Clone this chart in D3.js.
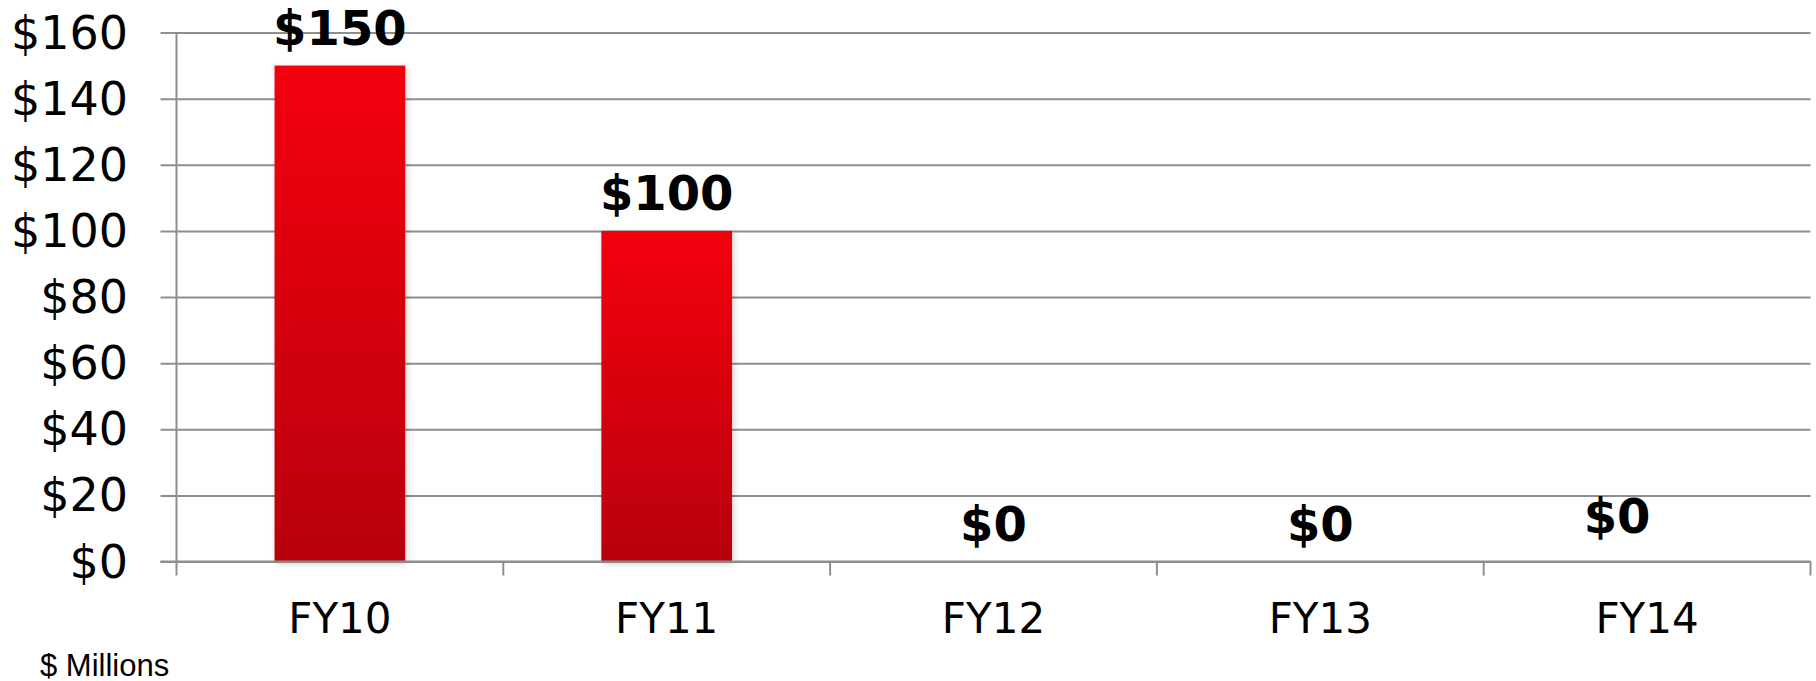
<!DOCTYPE html>
<html>
<head>
<meta charset="utf-8">
<script src="https://cdn.jsdelivr.net/npm/d3@7"></script>
<style>
  html, body { margin: 0; padding: 0; background: #fff; }
  svg { display: block; }
</style>
</head>
<body>
<svg id="chart" width="1816" height="681"></svg>
<script>
const categories = ["FY10", "FY11", "FY12", "FY13", "FY14"];
const values = [150, 100, 0, 0, 0];
const valueLabels = ["$150", "$100", "$0", "$0", "$0"];
const yTicks = [0, 20, 40, 60, 80, 100, 120, 140, 160];
const yTickLabels = ["$0", "$20", "$40", "$60", "$80", "$100", "$120", "$140", "$160"];
const unitNote = "$ Millions";

(function () {
const svg = d3.select("#chart");
const pLeft = 176.5, pRight = 1810.5, pTop = 32.5, pBottom = 561.5;

const x = d3.scaleBand().domain(categories).range([pLeft, pRight]).paddingInner(0.6).paddingOuter(0.3);
const xb = d3.scaleBand().domain(categories).range([pLeft, pRight]).padding(0);
const y = d3.scaleLinear().domain([0, 160]).range([pBottom, pTop]);

const rows = categories.map((c, i) => ({ cat: c, value: values[i], label: valueLabels[i], i }));

const defs = svg.append("defs");
const grad = defs.append("linearGradient").attr("id", "barGrad")
  .attr("x1", 0).attr("y1", 0).attr("x2", 0).attr("y2", 1);
grad.append("stop").attr("offset", "0%").attr("stop-color", "#f4000f");
grad.append("stop").attr("offset", "100%").attr("stop-color", "#b8000a");
const f = defs.append("filter").attr("id", "shadow").attr("x", "-10%").attr("y", "-10%").attr("width", "130%").attr("height", "130%");
f.append("feDropShadow").attr("dx", 2).attr("dy", 2).attr("stdDeviation", 3)
  .attr("flood-color", "#000").attr("flood-opacity", 0.18);

// gridlines
const yAxis = d3.axisLeft(y).tickValues(yTicks).tickSize(-(pRight - pLeft)).tickFormat(() => "");
const gy = svg.append("g").attr("transform", `translate(${pLeft},0)`).call(yAxis);
gy.select(".domain").remove();
gy.selectAll(".tick line").attr("x1", -16).attr("x2", pRight - pLeft)
  .attr("stroke", "#8e8e8e").attr("stroke-width", 2);

// y tick labels
svg.append("g").selectAll("text").data(yTicks).join("text")
  .attr("x", 128).attr("y", d => y(d)).attr("dy", "0.35em")
  .attr("text-anchor", "end")
  .attr("font-family", "DejaVu Sans, Verdana, sans-serif")
  .attr("font-size", 46).attr("fill", "#000")
  .text((d, i) => yTickLabels[i]);

// y axis line
svg.append("line").attr("x1", pLeft).attr("x2", pLeft).attr("y1", pTop).attr("y2", pBottom + 14)
  .attr("stroke", "#8e8e8e").attr("stroke-width", 2);

// x category tick marks
svg.append("g").selectAll("line").data(categories).join("line")
  .attr("x1", d => xb(d) + xb.bandwidth()).attr("x2", d => xb(d) + xb.bandwidth())
  .attr("y1", pBottom).attr("y2", pBottom + 14)
  .attr("stroke", "#8e8e8e").attr("stroke-width", 2);

// bars
svg.append("g").selectAll("rect").data(rows.filter(r => r.value > 0)).join("rect")
  .attr("x", d => x(d.cat))
  .attr("y", d => y(d.value))
  .attr("width", x.bandwidth())
  .attr("height", d => y(0) - y(d.value))
  .attr("fill", "url(#barGrad)")
  .attr("filter", "url(#shadow)");

// baseline over bar bottoms
svg.append("line").attr("x1", pLeft - 16).attr("x2", pRight).attr("y1", y(0)).attr("y2", y(0))
  .attr("stroke", "#8e8e8e").attr("stroke-width", 2);

// value labels
const nudge = i => (i === categories.length - 1 ? { dx: -30, dy: -8 } : { dx: 0, dy: 0 });
svg.append("g").selectAll("text").data(rows).join("text")
  .attr("x", d => x(d.cat) + x.bandwidth() / 2 + nudge(d.i).dx)
  .attr("y", d => y(d.value) - 21 + nudge(d.i).dy)
  .attr("text-anchor", "middle")
  .attr("font-family", "DejaVu Sans, Verdana, sans-serif")
  .attr("font-weight", "bold")
  .attr("font-size", 48).attr("fill", "#000")
  .text(d => d.label);

// x labels
svg.append("g").selectAll("text").data(categories).join("text")
  .attr("x", d => x(d) + x.bandwidth() / 2)
  .attr("y", 633)
  .attr("text-anchor", "middle")
  .attr("font-family", "DejaVu Sans, Verdana, sans-serif")
  .attr("font-size", 42).attr("fill", "#000")
  .text(d => d);

// unit note
svg.append("text").attr("x", 40).attr("y", 675.5)
  .attr("font-family", "Liberation Sans, Arial, sans-serif")
  .attr("font-size", 31).attr("fill", "#000")
  .text(unitNote);
})();
</script>
</body>
</html>
